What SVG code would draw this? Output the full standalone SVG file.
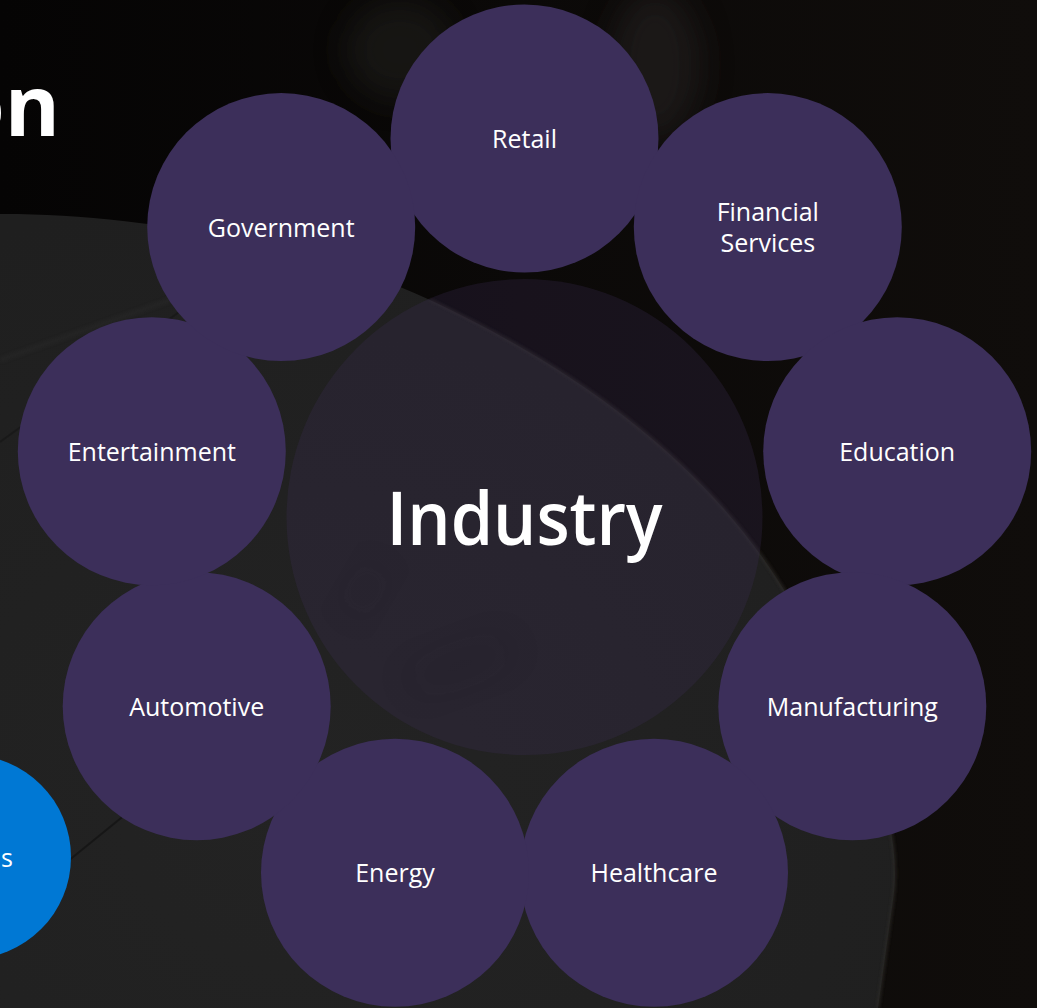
<svg xmlns="http://www.w3.org/2000/svg" width="1037" height="1008" viewBox="0 0 1037 1008">
  <defs>
    <style>
      .node { fill: #3c2f5a; }
      .lbl { font-family: "Open Sans", "Noto Sans", "Liberation Sans", sans-serif; font-size: 25px; fill: #ffffff; text-anchor: middle; }
      .hub { fill: #3c2f5a; fill-opacity: 0.26; }
      .hubtxt { font-family: "Open Sans", "Noto Sans", "Liberation Sans", sans-serif; font-size: 74px; font-weight: 600; fill: #ffffff; text-anchor: middle; }
      .title { font-family: "Open Sans", "Noto Sans", "Liberation Sans", sans-serif; font-size: 84px; font-weight: 700; fill: #ffffff; }
    </style>
    <linearGradient id="bgTop" x1="0" y1="0" x2="1" y2="0">
      <stop offset="0" stop-color="#050404"/>
      <stop offset="0.5" stop-color="#0b0908"/>
      <stop offset="1" stop-color="#100d0b"/>
    </linearGradient>
    <radialGradient id="plateGrad" cx="0.35" cy="0.75" r="0.8">
      <stop offset="0" stop-color="#232323"/>
      <stop offset="1" stop-color="#1f1f1f"/>
    </radialGradient>
    <filter id="blur16" x="-100%" y="-100%" width="300%" height="300%">
      <feGaussianBlur stdDeviation="16"/>
    </filter>
    <filter id="blur2" x="-20%" y="-20%" width="140%" height="140%">
      <feGaussianBlur stdDeviation="1.5"/>
    </filter>
  </defs>

  <!-- background photo approximation -->
  <g id="background">
    <rect x="0" y="0" width="1037" height="1008" fill="url(#bgTop)"/>
    <ellipse cx="400" cy="50" rx="55" ry="50" fill="#262523" opacity="0.45" filter="url(#blur16)"/>
    <ellipse cx="655" cy="65" rx="45" ry="75" fill="#2a2826" opacity="0.5" filter="url(#blur16)"/>
    <path d="M -10,214 C 120,212 300,240 430,300 C 600,380 720,480 790,600 C 860,720 905,820 893,900 L 878,1008 L -10,1008 Z" fill="url(#plateGrad)"/>
    <path d="M 430,300 C 600,380 720,480 790,600 C 860,720 905,820 893,900 L 878,1008" fill="none" stroke="#302f2c" stroke-width="3" opacity="0.6" filter="url(#blur2)"/>
    <line x1="0" y1="442" x2="190" y2="304" stroke="#151515" stroke-width="2" opacity="0.6"/>
    <line x1="0" y1="360" x2="170" y2="300" stroke="#2a2a2a" stroke-width="6" opacity="0.35" filter="url(#blur2)"/>
    <line x1="62" y1="866" x2="260" y2="705" stroke="#141414" stroke-width="2" opacity="0.8"/>
    <ellipse cx="365" cy="590" rx="10" ry="26" fill="#121212" opacity="0.25" filter="url(#blur16)" transform="rotate(30 365 590)"/>
    <ellipse cx="460" cy="665" rx="55" ry="14" fill="#121212" opacity="0.25" filter="url(#blur16)" transform="rotate(-20 460 665)"/>
  </g>

  <!-- partial title and side element -->
  <text class="title" x="60" y="136" text-anchor="end">on</text>
  <g id="side-node">
    <circle cx="-31" cy="857" r="102" fill="#0078d4"/>
    <text class="lbl" x="7" y="867" text-anchor="end">s</text>
  </g>

  <g id="connectors"></g>

  <g id="node-industry">
    <circle class="hub" cx="524.5" cy="517" r="238"/>
    <text class="hubtxt" x="524.5" y="545" textLength="276" lengthAdjust="spacingAndGlyphs">Industry</text>
  </g>

  <g id="node-retail">
    <circle class="node" cx="524.5" cy="138.5" r="134"/>
    <text class="lbl" x="524.5" y="148">Retail</text>
  </g>
  <g id="node-financial">
    <circle class="node" cx="767.8" cy="227.1" r="134"/>
    <text class="lbl" x="767.8" y="221">Financial</text>
    <text class="lbl" x="767.8" y="252">Services</text>
  </g>
  <g id="node-education">
    <circle class="node" cx="897.2" cy="451.3" r="134"/>
    <text class="lbl" x="897.2" y="461">Education</text>
  </g>
  <g id="node-manufacturing">
    <circle class="node" cx="852.3" cy="706.3" r="134"/>
    <text class="lbl" x="852.3" y="716">Manufacturing</text>
  </g>
  <g id="node-healthcare">
    <circle class="node" cx="654" cy="872.7" r="134"/>
    <text class="lbl" x="654" y="882">Healthcare</text>
  </g>
  <g id="node-energy">
    <circle class="node" cx="395" cy="872.7" r="134"/>
    <text class="lbl" x="395" y="882">Energy</text>
  </g>
  <g id="node-automotive">
    <circle class="node" cx="196.7" cy="706.3" r="134"/>
    <text class="lbl" x="196.7" y="716">Automotive</text>
  </g>
  <g id="node-entertainment">
    <circle class="node" cx="151.8" cy="451.3" r="134"/>
    <text class="lbl" x="151.8" y="461">Entertainment</text>
  </g>
  <g id="node-government">
    <circle class="node" cx="281.2" cy="227.1" r="134"/>
    <text class="lbl" x="281.2" y="237">Government</text>
  </g>
</svg>
